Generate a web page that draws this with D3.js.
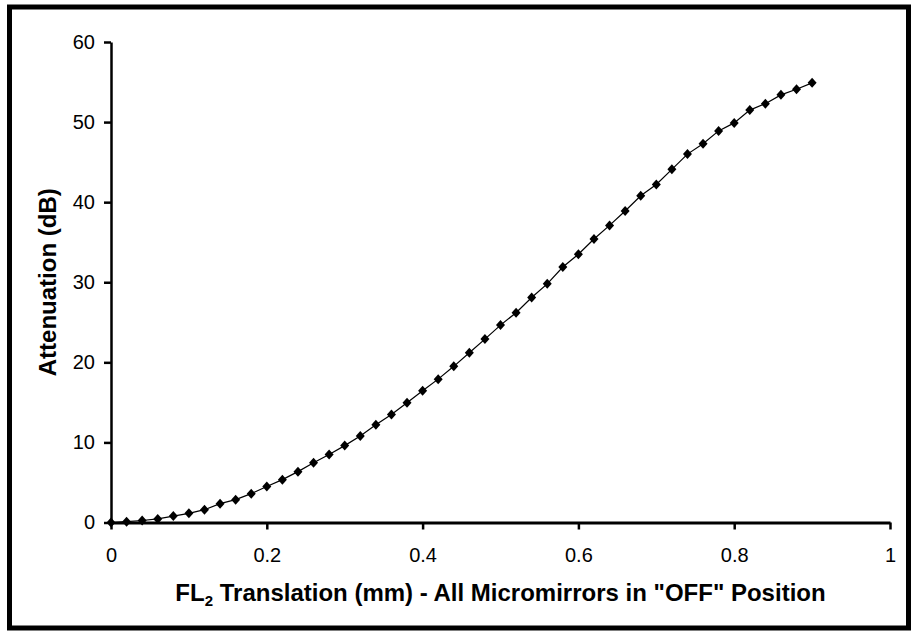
<!DOCTYPE html>
<html>
<head>
<meta charset="utf-8">
<script src="https://cdn.jsdelivr.net/npm/d3@7"></script>
<style>
  body { margin: 0; background: #ffffff; }
  text { font-family: Arial, "Liberation Sans", sans-serif; fill: #000000; }
</style>
</head>
<body>
<div id="chart"></div>
<script>
const translation = [
  0, 0.02, 0.04, 0.06, 0.08, 0.1, 0.12, 0.14, 0.16, 0.18,
  0.2, 0.22, 0.24, 0.26, 0.28, 0.3, 0.32, 0.34, 0.36, 0.38,
  0.4, 0.42, 0.44, 0.46, 0.48, 0.5, 0.52, 0.54, 0.56, 0.58,
  0.6, 0.62, 0.64, 0.66, 0.68, 0.7, 0.72, 0.74, 0.76, 0.78,
  0.8, 0.82, 0.84, 0.86, 0.88, 0.9,
];
const attenuation = [
  0, 0.1, 0.25, 0.45, 0.8, 1.15, 1.6, 2.35, 2.85, 3.6,
  4.5, 5.35, 6.35, 7.45, 8.5, 9.6, 10.8, 12.2, 13.5, 14.95,
  16.45, 17.9, 19.5, 21.2, 22.9, 24.65, 26.2, 28.1, 29.8, 31.9,
  33.5, 35.4, 37.1, 38.9, 40.8, 42.2, 44.1, 46.0, 47.3, 48.9,
  49.9, 51.5, 52.3, 53.4, 54.1, 54.9,
];
const xTicks = [0, 0.2, 0.4, 0.6, 0.8, 1];
const yTicks = [0, 10, 20, 30, 40, 50, 60];

const width = 915;
const height = 632;

const svg = d3
  .select("#chart")
  .append("svg")
  .attr("width", width)
  .attr("height", height)
  .style("display", "block");

// outer frame
svg
  .append("rect")
  .attr("x", 9.5)
  .attr("y", 7)
  .attr("width", 899)
  .attr("height", 621)
  .attr("fill", "none")
  .attr("stroke", "#000000")
  .attr("stroke-width", 5);

const x = d3.scaleLinear().domain([0, 1]).range([111, 890]);
const y = d3.scaleLinear().domain([0, 60]).range([522.5, 42]);

// y axis
const yAxis = svg
  .append("g")
  .attr("transform", `translate(${x(0)},0)`)
  .call(d3.axisLeft(y).tickValues(yTicks).tickSize(7).tickPadding(9).tickSizeOuter(0));

yAxis.select(".domain").attr("stroke-width", 2.5);
yAxis.selectAll(".tick line").attr("stroke-width", 2.5);
yAxis.selectAll(".tick text").style("font-size", "20px");

// x axis
const xAxis = svg
  .append("g")
  .attr("transform", `translate(0,${y(0)})`)
  .call(
    d3.axisBottom(x)
      .tickValues(xTicks)
      .tickFormat(d3.format("~g"))
      .tickSize(7)
      .tickPadding(18)
      .tickSizeOuter(0),
  );

xAxis.select(".domain").attr("stroke-width", 3);
xAxis.selectAll(".tick line").attr("stroke-width", 2.5);
xAxis.selectAll(".tick text").style("font-size", "20px");

svg.selectAll(".domain, .tick line").attr("stroke", "#000000");

const points = translation.map((t, i) => ({ t, a: attenuation[i] }));

const line = d3
  .line()
  .x((d) => x(d.t))
  .y((d) => y(d.a));

svg
  .append("path")
  .datum(points)
  .attr("d", line)
  .attr("fill", "none")
  .attr("stroke", "#000000")
  .attr("stroke-width", 1.2);

const diamond = "M0,-5L4.5,0L0,5L-4.5,0Z";

svg
  .selectAll(".marker")
  .data(points)
  .enter()
  .append("path")
  .attr("class", "marker")
  .attr("d", diamond)
  .attr("transform", (d) => `translate(${x(d.t)},${y(d.a)})`)
  .attr("fill", "#000000");

// axis titles
const xTitle = svg
  .append("text")
  .attr("x", (x(0) + x(1)) / 2)
  .attr("y", 601)
  .attr("text-anchor", "middle")
  .style("font-size", "24px")
  .style("font-weight", "bold");

xTitle.append("tspan").text("FL");
xTitle.append("tspan").attr("dy", 5).style("font-size", "15px").text("2");
xTitle
  .append("tspan")
  .attr("dy", -5)
  .text(' Translation (mm) - All Micromirrors in "OFF" Position');

svg
  .append("text")
  .attr("transform", `translate(56,${(y(0) + y(60)) / 2}) rotate(-90)`)
  .attr("text-anchor", "middle")
  .style("font-size", "24px")
  .style("font-weight", "bold")
  .text("Attenuation (dB)");
</script>
</body>
</html>
